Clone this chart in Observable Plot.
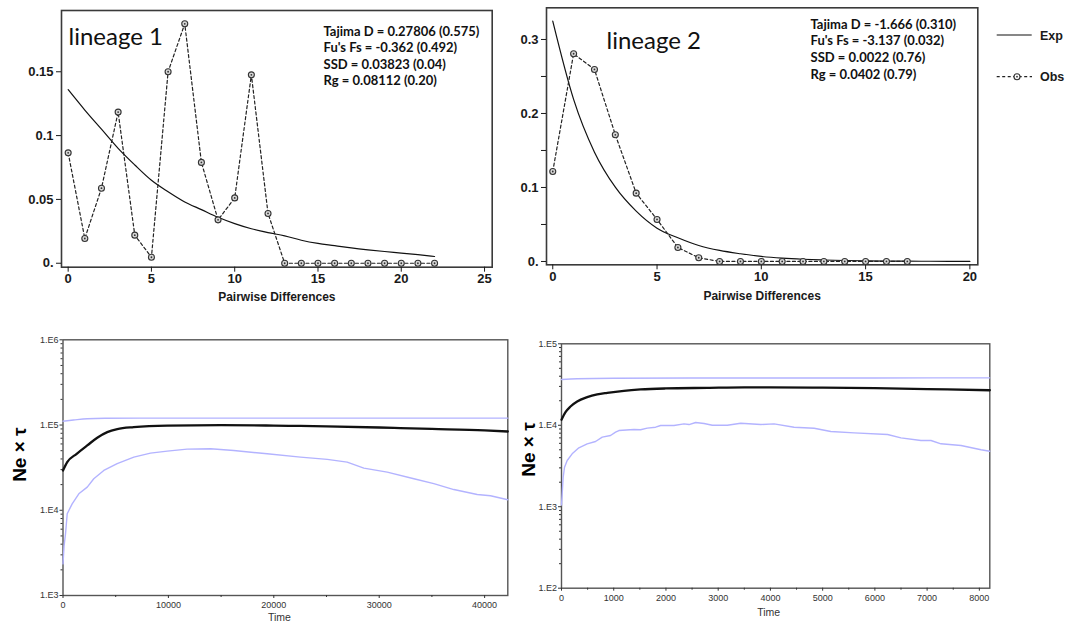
<!DOCTYPE html>
<html><head><meta charset="utf-8">
<script src="https://cdn.jsdelivr.net/npm/d3@7"></script>
<script src="https://cdn.jsdelivr.net/npm/@observablehq/plot@0.6"></script>
<style>
body{margin:0;background:#fff;}
#root{position:relative;width:1073px;height:625px;overflow:hidden;background:#fff;}
.panel{position:absolute;}
.panel svg{overflow:visible;}
#legend{position:absolute;left:990px;top:0px;}
</style></head><body><div id="root"></div>
<script>
// ---------- Mismatch distributions (top row) ----------
const diffs1 = [0,1,2,3,4,5,6,7,8,9,10,11,12,13,14,15,16,17,18,19,20,21,22];
const obs1 = [0.0865,0.0194,0.0588,0.1184,0.022,0.0047,0.150,0.1876,0.079,0.034,0.0512,0.1476,0.039,0,0,0,0,0,0,0,0,0,0];
const exp1 = [0.136,0.120,0.105,0.090,0.077,0.065,0.056,0.048,0.042,0.036,0.031,0.027,0.024,0.0215,0.018,0.0155,0.0138,0.012,0.0105,0.0092,0.008,0.0067,0.0053];

const diffs2obs = [0,1,2,3,4,5,6,7,8,9,10,11,12,13,14,15,16,17];
const obs2 = [0.1216,0.2807,0.2595,0.1712,0.0923,0.0568,0.0189,0.005,0,0,0,0,0,0,0,0,0,0];
const diffs2exp = [0,1,2,3,4,5,6,7,8,9,10,11,12,13,14,15,16,17,18,19,20];
const exp2 = [0.3247,0.219,0.1477,0.1004,0.068,0.045,0.032,0.0216,0.0149,0.0104,0.0068,0.0045,0.003,0.002,0.0013,0.0009,0.0006,0.0004,0.0003,0.0002,0.0001];

const titles = ["lineage 1", "lineage 2"];
const stats1 = ["Tajima D = 0.27806 (0.575)", "Fu's Fs = -0.362 (0.492)", "SSD = 0.03823 (0.04)", "Rg = 0.08112 (0.20)"];
const stats2 = ["Tajima D = -1.666 (0.310)", "Fu's Fs = -3.137 (0.032)", "SSD = 0.0022 (0.76)", "Rg = 0.0402 (0.79)"];
const mismatchXLabel = "Pairwise Differences";
const legendLabels = ["Exp", "Obs"];

const xTicks1 = [0,5,10,15,20,25];
const yTicks1 = [0,0.05,0.1,0.15];
const yLabels1 = ["0.","0.05","0.1","0.15"];
const xTicks2 = [0,5,10,15,20];
const yTicks2 = [0,0.1,0.2,0.3];
const yLabels2 = ["0.","0.1","0.2","0.3"];
const yMinor2 = [0.05,0.15,0.25];

// ---------- Bayesian skyline plots (bottom row) ----------
const tMed3 = [0,400,1300,2300,3250,4200,5150,6700,9900,15000,20000,22500,25000,30000,32000,35000,40000,42200];
const med3  = [29300,36700,46000,57600,71000,82600,89600,94500,98500,99500,98500,97500,96500,93500,92000,90000,86500,84000];
const tUp3 = [0,1000,2300,4000,10000,20000,30000,42200];
const up3  = [111000,114500,118600,120000,120500,120500,120500,120500];
const tLo3 = [0,100,240,400,870,1500,2300,2920,3870,5140,6720,8300,9890,11780,14000,16200,19370,22530,25070,26960,28540,30760,33290,35180,37080,39300,40560,42200];
const lo3  = [2350,3800,5300,9100,11900,15600,18700,23400,29300,35200,42000,46800,49400,52100,52600,50300,46000,42000,39500,36700,31200,28000,23400,20500,17500,15300,14800,13300];

const tMed4 = [0,77,172,300,492,684,875,1195,1514,1994,2792,3500,4000,5000,6000,7000,8200];
const med4  = [11700,14500,17000,19600,22100,23900,25000,26500,27500,28300,28800,29200,29200,28900,28500,27800,26900];
const tUp4 = [0,300,1000,3000,6000,8200];
const up4  = [36500,37200,37800,38000,38100,38200];
const tLo4 = [0,32,58,109,204,332,492,652,780,939,1035,1099,1387,1514,1642,1802,1898,2153,2345,2441,2569,2729,2888,3176,3431,3815,4070,4453,4837,5156,5603,6243,6499,6882,7074,7265,7649,8032,8200];
const lo4  = [1050,2300,3050,3690,4460,5290,5920,6320,7140,7480,8220,8620,8880,8800,9210,9470,9930,9930,10400,10200,10800,10500,10000,10000,10600,10200,10400,9470,9200,8380,8070,7700,7010,6500,6500,5920,5650,5000,4800];

const xMajor3 = [0,10000,20000,30000,40000];
const xMinor3 = [5000,15000,25000,35000];
const yMajor3 = [1e3,1e4,1e5,1e6];
const yLabels3 = ["1.E3","1.E4","1.E5","1.E6"];
const xMajor4 = [0,1000,2000,3000,4000,5000,6000,7000,8000];
const xMinor4 = [500,1500,2500,3500,4500,5500,6500,7500];
const yMajor4 = [1e2,1e3,1e4,1e5];
const yLabels4 = ["1.E2","1.E3","1.E4","1.E5"];
const bspYLabel = "Ne \u00d7 \u03c4";
const bspXLabel = "Time";

const root = document.getElementById("root");
function place(el, left, top) {
  const d = document.createElement("div");
  d.className = "panel";
  d.style.left = left + "px"; d.style.top = top + "px";
  d.appendChild(el); root.appendChild(d);
}
const zip = (xs, ys) => xs.map((x, i) => ({x, y: ys[i]}));

function mismatch(o) {
  const exp = zip(o.expX, o.expY), obs = zip(o.obsX, o.obsY);
  const fmt = new Map(o.yTicks.map((t, i) => [t, o.yLabels[i]]));
  return Plot.plot({
    width: o.width, height: o.height,
    marginLeft: o.ml, marginRight: o.mr, marginTop: o.mt, marginBottom: o.mb,
    x: {domain: o.xDomain}, y: {domain: o.yDomain},
    style: {fontFamily: "'Liberation Sans', Arial, sans-serif", fontSize: "13px", fontWeight: "bold", color: "#1a1a1a", background: "transparent"},
    marks: [
      Plot.frame({stroke: "#3a3a3a", strokeWidth: 1.6}),
      Plot.axisX({ticks: o.xTicks, tickSize: 5, tickPadding: 2, label: null, tickFormat: d => String(d)}),
      Plot.axisY({ticks: o.yTicks, tickSize: 5, tickPadding: 3, label: null, tickFormat: d => fmt.get(d)}),
      o.yMinor ? Plot.axisY({ticks: o.yMinor, tickSize: 5, label: null, tickFormat: () => ""}) : null,
      Plot.line(exp, {x: "x", y: "y", stroke: "#111", strokeWidth: 1.2, curve: "monotone-x"}),
      Plot.line(obs, {x: "x", y: "y", stroke: "#222", strokeWidth: 1.2, strokeDasharray: "3,2.5"}),
      Plot.dot(obs, {x: "x", y: "y", r: 3, fill: "#d8d8d8", stroke: "#333", strokeWidth: 1.1}),
      Plot.dot(obs, {x: "x", y: "y", r: 0.9, fill: "#333"}),
      Plot.text([o.title], {frameAnchor: "top-left", dx: o.titleDx, dy: o.titleDy, lineAnchor: "bottom", textAnchor: "start",
        fontFamily: "Lato, 'Open Sans', sans-serif", fontWeight: "normal", fontSize: 24, fill: "#111"}),
      Plot.text([o.stats.join("\n")], {frameAnchor: "top-left", dx: o.statsDx, dy: o.statsDy, lineAnchor: "top", textAnchor: "start",
        lineHeight: 1.28, fontFamily: "Lato, sans-serif", fontWeight: "bold", fontSize: 13, fill: "#111"}),
      Plot.text([mismatchXLabel], {frameAnchor: "bottom", dy: o.xlabDy, lineAnchor: "bottom", fontSize: 12, fontWeight: "bold", fill: "#1a1a1a"})
    ]
  });
}

place(mismatch({
  width: 500, height: 310, ml: 61, mr: 8.3, mt: 10, mb: 43.3,
  xDomain: [-0.4, 25.46], yDomain: [-0.0031, 0.198],
  xTicks: xTicks1, yTicks: yTicks1, yLabels: yLabels1, yMinor: null,
  expX: diffs1, expY: exp1, obsX: diffs1, obsY: obs1,
  title: titles[0], titleDx: 7, titleDy: 34,
  stats: stats1, statsDx: 262, statsDy: 13.2, xlabDy: 33.5
}), 0, 0);

place(mismatch({
  width: 500, height: 310, ml: 46, mr: 22.7, mt: 7.3, mb: 45.7,
  xDomain: [-0.30, 20.38], yDomain: [-0.0045, 0.3428],
  xTicks: xTicks2, yTicks: yTicks2, yLabels: yLabels2, yMinor: yMinor2,
  expX: diffs2exp, expY: exp2, obsX: diffs2obs, obsY: obs2,
  title: titles[1], titleDx: 60, titleDy: 41,
  stats: stats2, statsDx: 264, statsDy: 9.1, xlabDy: 35.2
}), 500, 0);

// legend for the mismatch panels
const lg = document.createElement("div");
lg.id = "legend";
lg.innerHTML = `<svg width="83" height="100" style="font-family:'Liberation Sans',Arial,sans-serif;font-weight:bold;font-size:12.5px;fill:#1a1a1a">
  <line x1="6.7" x2="41.7" y1="35" y2="35" stroke="#111" stroke-width="1.2"/>
  <text x="50" y="39.5">${legendLabels[0]}</text>
  <line x1="6.7" x2="42" y1="76.7" y2="76.7" stroke="#222" stroke-width="1.2" stroke-dasharray="3,2.5"/>
  <circle cx="27" cy="76.7" r="3" fill="#fff" stroke="#333" stroke-width="1.1"/>
  <circle cx="27" cy="76.7" r="0.9" fill="#333"/>
  <text x="50" y="81">${legendLabels[1]}</text>
</svg>`;
root.appendChild(lg);

function bsp(o) {
  const fmt = new Map(o.yMajor.map((t, i) => [t, o.yLabels[i]]));
  const yMinor = [];
  for (let e = Math.log10(o.yDomain[0]); e < Math.log10(o.yDomain[1]); e++)
    for (let m = 2; m <= 9; m++) yMinor.push(m * Math.pow(10, e));
  return Plot.plot({
    width: o.width, height: o.height,
    marginLeft: o.ml, marginRight: o.mr, marginTop: o.mt, marginBottom: o.mb,
    x: {domain: o.xDomain}, y: {type: "log", domain: o.yDomain},
    style: {fontFamily: "'Liberation Sans', Arial, sans-serif", fontSize: "9px", color: "#333", background: "transparent"},
    marks: [
      Plot.frame({stroke: "#555", strokeWidth: 1.4}),
      Plot.axisX({ticks: o.xMajor, tickSize: 3, tickPadding: 3, label: null, tickFormat: d => String(d)}),
      Plot.axisX({ticks: o.xMinor, tickSize: 2, label: null, tickFormat: () => ""}),
      Plot.axisY({ticks: o.yMajor, tickSize: 3, tickPadding: 1.5, label: null, tickFormat: d => fmt.get(d)}),
      Plot.axisY({ticks: yMinor, tickSize: 2, label: null, tickFormat: () => ""}),
      Plot.line(zip(o.tUp, o.up), {x: "x", y: "y", stroke: "#b3b3ff", strokeWidth: 1.4, curve: "monotone-x"}),
      Plot.line(zip(o.tLo, o.lo), {x: "x", y: "y", stroke: "#b3b3ff", strokeWidth: 1.4}),
      Plot.line(zip(o.tMed, o.med), {x: "x", y: "y", stroke: "#111", strokeWidth: 2.3, curve: "monotone-x"}),
      Plot.text([bspYLabel], {frameAnchor: "left", dx: o.ylabDx, dy: o.ylabDy, rotate: -90, textAnchor: "middle", lineAnchor: "middle",
        fontSize: 19, fontWeight: "bold", fill: "#000"}),
      Plot.text([bspXLabel], {frameAnchor: "bottom", dx: o.timeDx, dy: o.timeDy, lineAnchor: "middle", fontSize: 10.5, fill: "#333"})
    ]
  });
}

place(bsp({
  width: 520, height: 305, ml: 62.5, mr: 12.7, mt: 19.3, mb: 30,
  xDomain: [0, 42200], yDomain: [1e3, 1e6],
  xMajor: xMajor3, xMinor: xMinor3, yMajor: yMajor3, yLabels: yLabels3,
  tMed: tMed3, med: med3, tUp: tUp3, up: up3, tLo: tLo3, lo: lo3,
  ylabDx: -43.2, ylabDy: -13, timeDx: -6, timeDy: 22.5
}), 0, 320);

place(bsp({
  width: 480, height: 305, ml: 41, mr: 10.7, mt: 23.3, mb: 37.3,
  xDomain: [0, 8200], yDomain: [1e2, 1e5],
  xMajor: xMajor4, xMinor: xMinor4, yMajor: yMajor4, yLabels: yLabels4,
  tMed: tMed4, med: med4, tUp: tUp4, up: up4, tLo: tLo4, lo: lo4,
  ylabDx: -33, ylabDy: -16.5, timeDx: -7, timeDy: 24
}), 520, 320);
</script></body></html>
